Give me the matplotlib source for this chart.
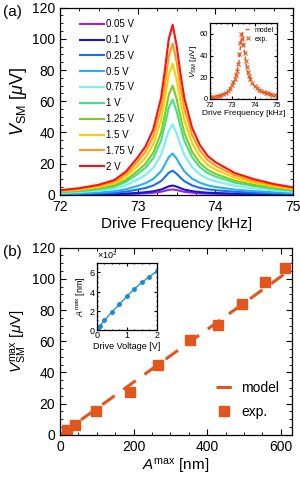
import matplotlib
matplotlib.use("Agg")
import matplotlib.pyplot as plt
import numpy as np
from matplotlib.ticker import MultipleLocator, ScalarFormatter

plt.rcParams['font.family'] = ['Liberation Sans', 'DejaVu Sans']
plt.rcParams['mathtext.fontset'] = 'custom'
plt.rcParams['mathtext.rm'] = 'Liberation Sans'
plt.rcParams['mathtext.it'] = 'Liberation Sans:italic'

# ---- data ----
freq = [72.0, 72.25, 72.5, 72.7, 72.85, 73.0, 73.1, 73.2, 73.3, 73.35, 73.4, 73.45,
        73.5, 73.55, 73.6, 73.7, 73.8, 73.9, 74.0, 74.25, 74.5, 74.75, 75.0]

volt_labels = ['0.05 V', '0.1 V', '0.25 V', '0.5 V', '0.75 V', '1 V', '1.25 V',
               '1.5 V', '1.75 V', '2 V']
colors = ['#a020e8', '#1515d8', '#1b6ef0', '#28b0f5', '#78f0ec', '#3de38a',
          '#7acc1e', '#f5d000', '#ff9a1a', '#ff1010']

v_005 = [0.1, 0.1, 0.2, 0.3, 0.5, 0.8, 1.0, 1.3, 2.0, 2.6, 3.2, 3.5, 3.1, 2.5, 2.0, 1.4, 1.0, 0.8, 0.7, 0.4, 0.3, 0.2, 0.2]
v_01 = [0.2, 0.2, 0.4, 0.5, 0.8, 1.3, 1.7, 2.3, 3.4, 4.4, 5.5, 6.0, 5.3, 4.3, 3.4, 2.4, 1.8, 1.4, 1.2, 0.8, 0.6, 0.4, 0.3]
v_025 = [0.4, 0.6, 0.9, 1.3, 2.1, 3.4, 4.4, 6.0, 8.8, 11.4, 14.2, 15.5, 13.6, 11.1, 8.8, 6.1, 4.5, 3.6, 3.0, 2.0, 1.4, 1.0, 0.7]
v_05 = [0.7, 1.0, 1.6, 2.3, 3.6, 5.8, 7.5, 10.2, 15.1, 19.4, 24.3, 26.5, 23.3, 19.0, 15.1, 10.4, 7.8, 6.1, 5.1, 3.4, 2.4, 1.7, 1.2]
v_075 = [1.2, 1.8, 2.7, 3.9, 6.2, 9.9, 12.8, 17.3, 25.6, 33.0, 41.3, 45.0, 39.6, 32.2, 25.6, 17.8, 13.2, 10.3, 8.7, 5.8, 4.1, 2.9, 2.0]
v_1 = [1.7, 2.4, 3.6, 5.3, 8.4, 13.4, 17.4, 23.5, 34.7, 44.8, 56.0, 61.0, 53.8, 43.7, 34.7, 24.1, 17.9, 14.0, 11.8, 7.8, 5.6, 3.9, 2.7]
v_125 = [1.9, 2.8, 4.2, 6.1, 9.6, 15.4, 19.9, 27.0, 39.8, 51.4, 64.2, 70.0, 61.6, 50.1, 39.8, 27.6, 20.5, 16.1, 13.5, 9.0, 6.4, 4.5, 3.1]
v_15 = [2.3, 3.3, 5.0, 7.3, 11.6, 18.5, 23.9, 32.4, 47.8, 61.7, 77.1, 84.0, 74.0, 60.1, 47.8, 33.2, 24.7, 19.3, 16.2, 10.8, 7.7, 5.4, 3.7]
v_175 = [2.7, 3.8, 5.8, 8.5, 13.4, 21.4, 27.6, 37.4, 55.2, 71.2, 89.0, 97.0, 85.4, 69.4, 55.2, 38.3, 28.5, 22.3, 18.7, 12.5, 8.9, 6.2, 4.3]
v_2 = [3.0, 4.3, 6.5, 9.5, 15.0, 24.0, 31.0, 42.0, 62.0, 80.0, 100.0, 109.0, 96.0, 78.0, 62.0, 43.0, 32.0, 25.0, 21.0, 14.0, 10.0, 7.0, 4.8]
curves = [v_005, v_01, v_025, v_05, v_075, v_1, v_125, v_15, v_175, v_2]

# inset (a): model vs experiment at one drive
inset_model = v_1
exp_f = [72.0, 72.1, 72.2, 72.3, 72.4, 72.5, 72.6, 72.7, 72.8, 72.9, 73.0, 73.05, 73.1,
         73.15, 73.2, 73.25, 73.3, 73.35, 73.4, 73.45, 73.5, 73.55, 73.6, 73.65, 73.7,
         73.75, 73.8, 73.9, 74.0, 74.1, 74.2, 74.3, 74.4, 74.5, 74.6, 74.7, 74.8, 74.9, 75.0]
exp_v = [1.6, 1.8, 2.1, 2.4, 2.9, 3.5, 4.3, 5.4, 7.0, 9.5, 13.0, 15.5, 18.5, 22, 26, 32,
         41, 52, 60, 55, 50, 42, 35, 29, 25, 21, 18.5, 14.5, 12, 10, 8.5, 7.4, 6.5, 5.7,
         5.0, 4.4, 3.9, 3.4, 3.0]

# panel (b)
drive_v = [0.05, 0.1, 0.25, 0.5, 0.75, 1.0, 1.25, 1.5, 1.75, 2.0]
a_max = [18, 40, 99, 189, 266, 353, 428, 495, 556, 611]
v_max = [3.2, 6.4, 15.6, 27.2, 45, 61, 70.6, 84, 97.8, 107]
model_a = [0, 620]
model_v = [0, 104.8]

orange = '#e2561d'
blue = '#1a8ad4'


def style(ax, size):
    ax.tick_params(which='both', direction='in', top=True, right=True, labelsize=size)
    ax.tick_params(which='major', length=4, width=0.8)
    ax.tick_params(which='minor', length=2, width=0.6)
    for s in ax.spines.values():
        s.set_linewidth(0.9)


fig = plt.figure(figsize=(3.0, 4.8), dpi=100)

# ---------- (a) ----------
ax1 = fig.add_axes([0.2, 0.594, 0.777, 0.39])
for y, c, lab in zip(curves, colors, volt_labels):
    ax1.plot(freq, y, color=c, lw=1.5, label=lab)
ax1.set_xlim(72, 75)
ax1.set_ylim(0, 120)
ax1.xaxis.set_major_locator(MultipleLocator(1))
ax1.xaxis.set_minor_locator(MultipleLocator(0.25))
ax1.yaxis.set_major_locator(MultipleLocator(20))
ax1.yaxis.set_minor_locator(MultipleLocator(5))
style(ax1, 10)
ax1.set_xlabel('Drive Frequency [kHz]', fontsize=11, labelpad=2)
ax1.set_ylabel(r'$V_\mathrm{SM}$ [$\mu$V]', fontsize=13, labelpad=2)
ax1.legend(loc='upper left', bbox_to_anchor=(0.06, 0.97), fontsize=7, frameon=False,
           handlelength=2.5, handletextpad=0.2, labelspacing=0.6, borderaxespad=0.2)
fig.text(0.01, 0.975, '(a)', fontsize=11, va='center')

ins1 = fig.add_axes([0.7, 0.794, 0.223, 0.158])
ins1.plot(freq, inset_model, ls='--', color=orange, lw=1.0, dashes=(3, 2), label='model')
ins1.plot(exp_f, exp_v, ls='none', marker='x', ms=2.5, mew=0.8, color=orange, label='exp.')
ins1.set_xlim(72, 75)
ins1.set_ylim(0, 70)
ins1.xaxis.set_major_locator(MultipleLocator(1))
ins1.xaxis.set_minor_locator(MultipleLocator(0.25))
ins1.yaxis.set_major_locator(MultipleLocator(20))
ins1.yaxis.set_minor_locator(MultipleLocator(5))
style(ins1, 5.5)
ins1.tick_params(which='major', length=2)
ins1.tick_params(axis='x', which='major', pad=2.5)
ins1.tick_params(axis='y', which='major', pad=1.5)
ins1.tick_params(which='minor', length=1)
ins1.set_xlabel('Drive Frequency [kHz]', fontsize=6, labelpad=0.5)
ins1.set_ylabel(r'$V_\mathrm{SM}$ [$\mu$V]', fontsize=6, labelpad=0.5)
ins1.legend(loc='upper right', fontsize=5, frameon=False, handlelength=1.0,
            handletextpad=0.4, labelspacing=0.3, borderaxespad=0.1)

# ---------- (b) ----------
ax2 = fig.add_axes([0.2, 0.094, 0.773, 0.39])
ax2.plot(model_a, model_v, ls='--', color=orange, lw=2.2, dashes=(5, 3.5), label='model')
ax2.plot(a_max, v_max, ls='none', marker='s', ms=6.5, color=orange, label='exp.')
ax2.set_xlim(0, 630)
ax2.set_ylim(0, 120)
ax2.xaxis.set_major_locator(MultipleLocator(200))
ax2.xaxis.set_minor_locator(MultipleLocator(50))
ax2.yaxis.set_major_locator(MultipleLocator(20))
ax2.yaxis.set_minor_locator(MultipleLocator(5))
style(ax2, 10)
ax2.set_xlabel(r'$A^\mathrm{max}$ [nm]', fontsize=11, labelpad=2)
ax2.set_ylabel(r'$V_\mathrm{SM}^\mathrm{max}$ [$\mu$V]', fontsize=11, labelpad=2)
ax2.legend(loc='lower right', bbox_to_anchor=(1.0, 0.02), fontsize=10, frameon=False,
           handlelength=1.1, handletextpad=0.7, labelspacing=0.7)
fig.text(0.01, 0.475, '(b)', fontsize=11, va='center')

ins2 = fig.add_axes([0.323, 0.3125, 0.2, 0.14])
ins2.plot(drive_v, a_max, color=blue, lw=0.9, marker='o', ms=2.5)
ins2.set_xlim(0, 2)
ins2.set_ylim(0, 700)
ins2.xaxis.set_major_locator(MultipleLocator(1))
ins2.xaxis.set_minor_locator(MultipleLocator(0.25))
ins2.yaxis.set_major_locator(MultipleLocator(200))
ins2.yaxis.set_minor_locator(MultipleLocator(50))
fmt = ScalarFormatter(useMathText=True)
fmt.set_powerlimits((-1, 1))
ins2.yaxis.set_major_formatter(fmt)
style(ins2, 6.5)
ins2.tick_params(which='major', length=2, pad=1)
ins2.tick_params(which='minor', length=1)
ins2.yaxis.get_offset_text().set_fontsize(6.5)
ins2.set_xlabel('Drive Voltage [V]', fontsize=6.5, labelpad=1)
ins2.set_ylabel(r'$A^\mathrm{max}$ [nm]', fontsize=6.5, labelpad=1)

fig.savefig('out.png', dpi=100)
